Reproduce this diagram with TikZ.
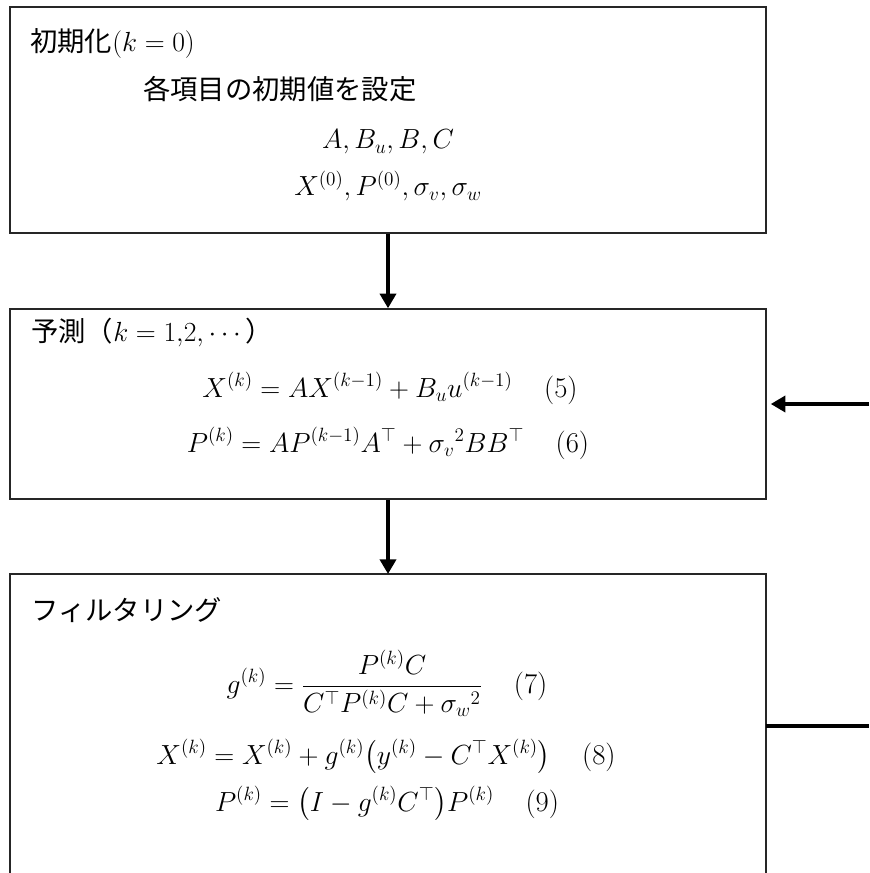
\documentclass[tikz,border=0pt]{standalone}
\usepackage{amsmath}
\usepackage{fontspec}
\newfontfamily\jp{Noto Sans CJK JP}
\usetikzlibrary{arrows.meta}
\tikzset{
  box/.style={draw=black!85, line width=1.1pt, minimum width=567pt, inner sep=0pt},
  txt/.style={inner sep=0pt, anchor=base west, font=\fontsize{20.5}{24}\selectfont},
  eqn/.style={inner sep=0pt, anchor=base, font=\fontsize{21.5}{25}\selectfont},
  flow/.style={line width=3.4pt, -{Triangle[length=11pt,width=12pt]}},
  link/.style={line width=3.6pt},
}
\newcommand{\eqgap}{\hspace{1.1em}}
\begin{document}
\begin{tikzpicture}[x=0.75pt,y=-0.75pt]
\useasboundingbox (0,0) rectangle (869,873);
% boxes
\node[box, minimum height=169.5pt] (b1) at (388,120) {};
\node[box, minimum height=142.5pt] (b2) at (388,404) {};
\coordinate (b3top) at (388,574);
\coordinate (b3tl) at (10,574);
\coordinate (b3tr) at (766,574);
\coordinate (b3bl) at (10,873);
\coordinate (b3br) at (766,873);
\draw[draw=black!85, line width=1.1pt] (b3bl) -- (b3tl) -- (b3tr) -- (b3br);
% box 1 text
\node[txt] (t1) at (30,52) {{\jp 初期化}$(k=0)$};
\node[txt] (s1) at (143,100) {\jp 各項目の初期値を設定};
\node[eqn] (m1) at (388,149) {$A, B_u, B, C$};
\node[eqn] (m2) at (388,196) {$X^{(0)}, P^{(0)}, \sigma_v, \sigma_w$};
% box 2 text
\node[txt] (t2) at (31,341) {{\jp 予測（}$k=1{,}2{,}\cdots${\jp ）}};
\node[eqn] (e5) at (390,397) {$X^{(k)} = AX^{(k-1)} + B_u u^{(k-1)}$\eqgap(5)};
\node[eqn] (e6) at (388,452) {$P^{(k)} = AP^{(k-1)}A^{\top} + {\sigma_v}^2 BB^{\top}$\eqgap(6)};
% box 3 text
\node[txt] (t3) at (31,620) {\jp フィルタリング};
\node[eqn] (e7) at (387,693) {$g^{(k)} = \smash[b]{\dfrac{P^{(k)}C}{C^{\top}P^{(k)}C + {\sigma_w}^2}}$\eqgap(7)};
\node[eqn] (e8) at (386,764) {$\smash[b]{X^{(k)} = X^{(k)} + g^{(k)}\bigl(y^{(k)} - C^{\top}X^{(k)}\bigr)}$\eqgap(8)};
\node[eqn] (e9) at (387,811) {$\smash[t]{P^{(k)} = \bigl(I - g^{(k)}C^{\top}\bigr)P^{(k)}}$\eqgap(9)};
% connectors
\draw[flow] (b1.south) -- (b2.north);
\draw[flow] (b2.south) -- (b3top);
\coordinate (rin) at (869,404);
\draw[flow] (rin) -- ([xshift=3pt]b2.east);
\coordinate (b3e) at (766,726);
\coordinate (rout) at (869,726);
\draw[link] (b3e) -- (rout);
\end{tikzpicture}
\end{document}
